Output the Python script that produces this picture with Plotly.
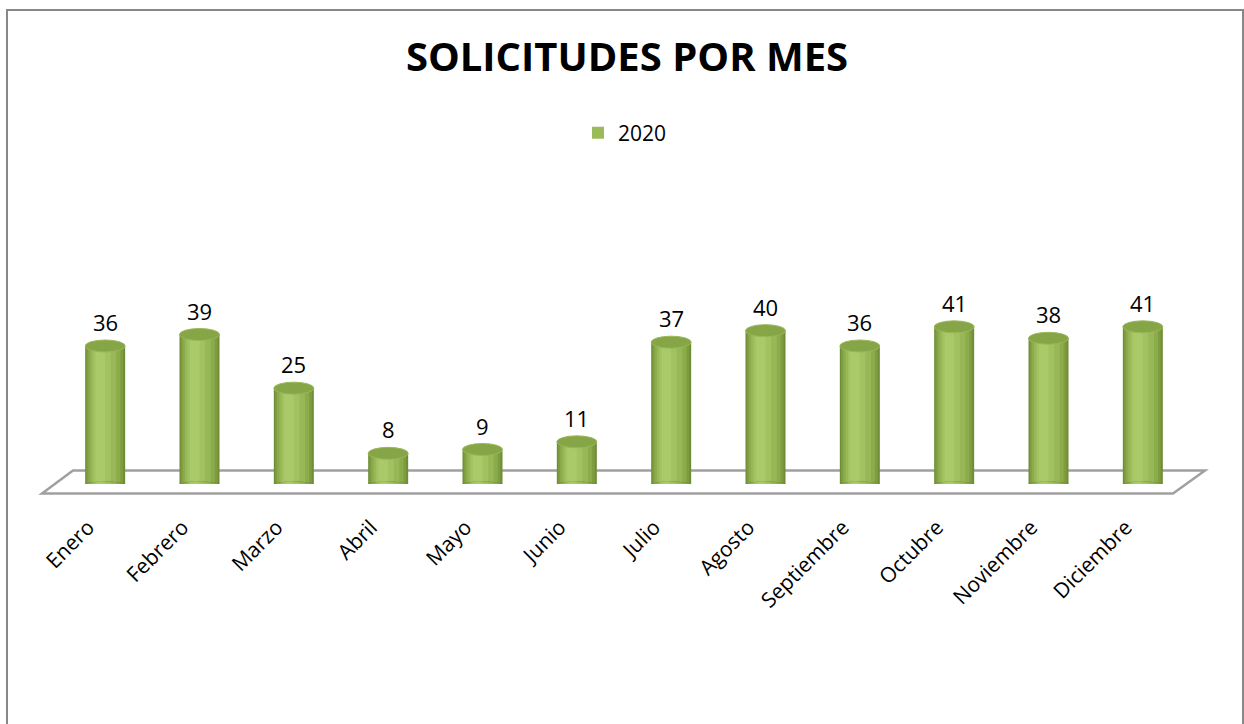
import plotly.graph_objects as go

# ---- data ----
months = ["Enero", "Febrero", "Marzo", "Abril", "Mayo", "Junio", "Julio",
          "Agosto", "Septiembre", "Octubre", "Noviembre", "Diciembre"]
values_2020 = [36, 39, 25, 8, 9, 11, 37, 40, 36, 41, 38, 41]
series_name = "2020"
title_text = "SOLICITUDES POR MES"

# ---- style ----
FONT = "Open Sans"
BAR_W = 0.424
# gradient bands (left fraction, right fraction, colour) to mimic a cylinder
bands = [
    (0.00, 1.00, "#6f8d36"),
    (0.03, 0.95, "#7e9d40"),
    (0.08, 0.88, "#8cab4b"),
    (0.14, 0.78, "#98b756"),
    (0.20, 0.64, "#a2c160"),
    (0.26, 0.50, "#aaca69"),
]

# plot geometry (pixels)
L, R, T, B = 58, 54, 254, 240
W_PLOT = 1244 - L - R
H_PLOT = 724 - T - B
Y_MAX = 60
px_per_unit = H_PLOT / Y_MAX

def px_x(p):
    return (p - L) / W_PLOT

def px_y(p):
    return (724 - B - p) / H_PLOT

fig = go.Figure()

xs = list(range(len(months)))
for k, (f0, f1, col) in enumerate(bands):
    w = BAR_W * (f1 - f0)
    off = -BAR_W / 2 + BAR_W * f0
    fig.add_trace(go.Bar(
        x=xs, y=values_2020, width=[w] * len(xs), offset=[off] * len(xs),
        marker=dict(color=col, line=dict(width=0)),
        showlegend=False, hoverinfo="skip",
    ))

# legend entry
fig.add_trace(go.Bar(
    x=[None], y=[None], name=series_name,
    marker=dict(color="#9bbb59", line=dict(width=0)),
    showlegend=True,
))

shapes = []
# floor parallelogram (decoration, drawn behind bars)
fx = [42, 1173, 1205, 73]
fy = [493.5, 493.5, 470.5, 470.5]
path = "M {} {} L {} {} L {} {} L {} {} Z".format(
    *[v for pair in zip([px_x(a) for a in fx], [px_y(b) for b in fy]) for v in pair])
shapes.append(dict(type="path", path=path, xref="paper", yref="paper",
                   line=dict(color="#a0a0a0", width=2.5), fillcolor="rgba(0,0,0,0)",
                   layer="below"))

# rounded bottoms and top ellipses for each cylinder
d_bot = 2.6 / px_per_unit
d_top = 6.0 / px_per_unit
for i, v in enumerate(values_2020):
    for (f0, f1, col) in bands:
        shapes.append(dict(type="circle", xref="x", yref="y",
                           x0=i - BAR_W / 2 + BAR_W * f0, x1=i - BAR_W / 2 + BAR_W * f1,
                           y0=-d_bot, y1=d_bot, fillcolor=col, line=dict(width=0),
                           layer="above"))
    shapes.append(dict(type="circle", xref="x", yref="y",
                       x0=i - BAR_W / 2, x1=i + BAR_W / 2,
                       y0=v - d_top, y1=v + d_top, fillcolor="#86a547",
                       line=dict(color="#98b858", width=1), layer="above"))

# outer chart border
shapes.append(dict(type="rect", xref="paper", yref="paper",
                   x0=px_x(7), x1=px_x(1243), y0=px_y(760), y1=px_y(10),
                   line=dict(color="#888888", width=2), fillcolor="rgba(0,0,0,0)",
                   layer="below"))

annotations = []
for i, v in enumerate(values_2020):
    annotations.append(dict(x=i, y=v, xref="x", yref="y", text=str(v),
                            showarrow=False, yanchor="middle", yshift=24,
                            font=dict(family=FONT, size=22, color="#000000")))

fig.update_layout(
    width=1244, height=724,
    margin=dict(l=L, r=R, t=T, b=B),
    paper_bgcolor="white", plot_bgcolor="white",
    barmode="overlay",
    title=dict(text="<b>" + title_text + "</b>", x=627 / 1244, xref="container",
               xanchor="center", y=1 - 57 / 724, yref="container", yanchor="middle",
               font=dict(family=FONT, size=40, color="#000000")),
    legend=dict(orientation="h", x=px_x(578), xanchor="left", y=px_y(133),
                yanchor="middle", font=dict(family=FONT, size=21, color="#000000"),
                bgcolor="rgba(0,0,0,0)"),
    xaxis=dict(tickmode="array", tickvals=xs, ticktext=months, range=[-0.5, 11.5],
               tickangle=-45, showgrid=False, showline=False, zeroline=False,
               ticks="", ticklabelstandoff=26, ticklabelshift=-17,
               tickfont=dict(family=FONT, size=21, color="#000000")),
    yaxis=dict(range=[0, Y_MAX], visible=False, showgrid=False, zeroline=False),
    shapes=shapes,
    annotations=annotations,
    showlegend=True,
)

fig.write_html("out.html", config={"displayModeBar": False},
               post_script="document.body.style.margin='0px';")
